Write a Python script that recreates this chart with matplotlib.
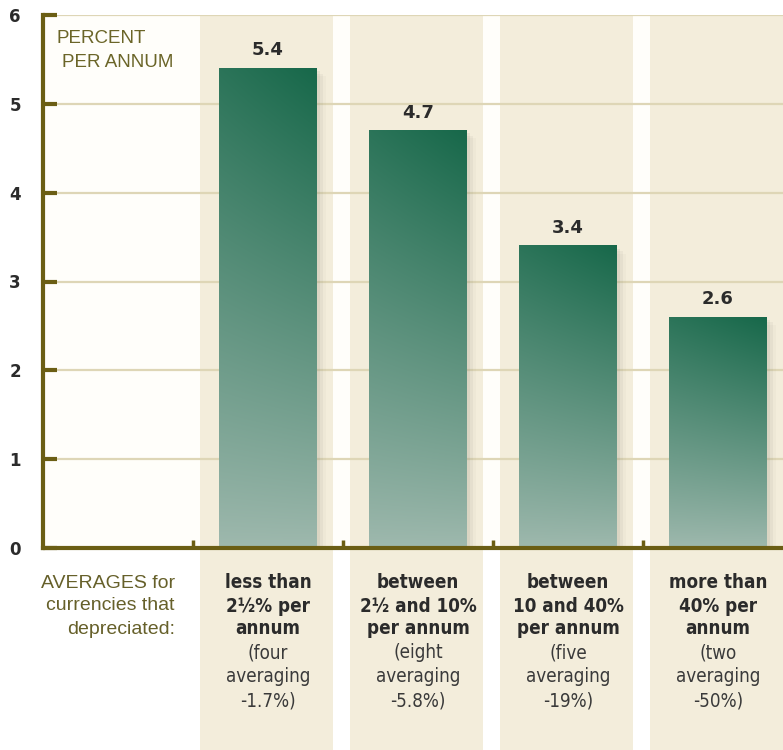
import numpy as np
import matplotlib.pyplot as plt
from matplotlib.patches import Rectangle
from matplotlib.colors import to_rgb
from matplotlib import font_manager
import matplotlib.transforms as mtransforms

plt.rcParams['font.family'] = ['Liberation Sans', 'DejaVu Sans']

# returns by depreciation bracket
values = [5.4, 4.7, 3.4, 2.6]
value_labels = ['5.4', '4.7', '3.4', '2.6']
bracket_lines = [
    ['less than', '2½% per', 'annum'],
    ['between', '2½ and 10%', 'per annum'],
    ['between', '10 and 40%', 'per annum'],
    ['more than', '40% per', 'annum'],
]
detail_lines = [
    ['(four', 'averaging', '-1.7%)'],
    ['(eight', 'averaging', '-5.8%)'],
    ['(five', 'averaging', '-19%)'],
    ['(two', 'averaging', '-50%)'],
]
yticks = [0, 1, 2, 3, 4, 5, 6]

OLIVE = '#6b5e14'
BAND = '#f3eddb'
TOP = np.array(to_rgb('#17684a'))
BOTTOM = np.array(to_rgb('#9fb9ae'))

# narrow face for the bracket labels if one is around
cond = [f for f in font_manager.fontManager.ttflist
        if 'DejaVu Sans' in f.name and f.stretch == 'condensed']
if cond:
    lab_font = dict(family='DejaVu Sans', stretch='condensed', fontsize=13.5)
else:
    lab_font = dict(family='DejaVu Sans', fontsize=12.5)

W, H = 783, 750
fig = plt.figure(figsize=(W / 100, H / 100), dpi=100)
fig.patch.set_facecolor('white')
# each slot is 150px wide, slot 0 left empty; axes run past the right edge
ax = fig.add_axes([43 / W, (H - 548) / H, 750 / W, 533 / H])
ax.set_xlim(-0.5, 4.5)
ax.set_ylim(0, 6)
ax.set_facecolor('#fffefa')

trans = mtransforms.blended_transform_factory(ax.transData, ax.transAxes)
xs = np.arange(1, len(values) + 1)

# beige column bands, running down behind the labels
for x in xs:
    ax.add_patch(Rectangle((x - 0.453, -0.4), 0.886, 1.4, transform=trans,
                           facecolor=BAND, edgecolor='none', zorder=0, clip_on=False))

for y in yticks[1:]:
    ax.axhline(y, color='#ded6b6', lw=1.6, zorder=1)

# gradient bars with a soft shadow on the right
bw = 0.65
ny, nx = 200, 60
t = np.linspace(0, 1, ny)[:, None]
s = np.linspace(0, 1, nx)[None, :]
for x, v, lab in zip(xs, values, value_labels):
    for k, a in enumerate([0.10, 0.07, 0.04]):
        off = 0.02 * (k + 1)
        ax.add_patch(Rectangle((x - bw / 2 + off, 0), bw, v - 0.03 * (k + 1),
                               facecolor='#7a7a6a', alpha=a, edgecolor='none', zorder=2))
    mix = (t ** 0.9) * (0.85 + 0.15 * s)
    img = BOTTOM[None, None, :] * (1 - mix[..., None]) + TOP[None, None, :] * mix[..., None]
    ax.imshow(img, extent=[x - bw / 2, x + bw / 2, 0, v], origin='lower',
              aspect='auto', zorder=3, interpolation='bilinear')
    ax.text(x, v + 0.1, lab, ha='center', va='bottom', fontsize=13,
            fontweight='bold', color='#2b2b2b', family=['DejaVu Sans'], zorder=4)
ax.set_xlim(-0.5, 4.5)
ax.set_ylim(0, 6)

for side in ['top', 'right']:
    ax.spines[side].set_visible(False)
for side in ['left', 'bottom']:
    ax.spines[side].set_color(OLIVE)
    ax.spines[side].set_linewidth(3)
    ax.spines[side].set_zorder(5)

ax.set_yticks(yticks)
ax.set_yticklabels([str(y) for y in yticks], fontsize=12, fontweight='bold',
                   color='#2b2b2b', family=['DejaVu Sans'])
ax.tick_params(axis='y', direction='in', length=10, width=3, color=OLIVE, pad=16)
ax.set_xticks([0.5, 1.5, 2.5, 3.5])
ax.set_xticklabels([])
ax.tick_params(axis='x', direction='in', length=6, width=2.5, color=OLIVE)

ax.text(-0.407, 5.74, 'PERCENT', ha='left', va='center', fontsize=13.5,
        color='#6b6528', zorder=4)
ax.text(-0.373, 5.47, 'PER ANNUM', ha='left', va='center', fontsize=13.5,
        color='#6b6528', zorder=4)

# labels below the axis
rows = [583, 606, 629, 653, 677, 701]
row_y = [(548 - r) / 533 for r in rows]
for i, line in enumerate(['AVERAGES for', 'currencies that', 'depreciated:']):
    ax.text(0.38, row_y[i], line, transform=trans, ha='right', va='center',
            fontsize=14, color='#66602a', clip_on=False)
for x, bl, dl in zip(xs, bracket_lines, detail_lines):
    for i, line in enumerate(bl):
        ax.text(x, row_y[i], line, transform=trans, ha='center', va='center',
                fontweight='bold', color='#2b2b2b', clip_on=False, **lab_font)
    for i, line in enumerate(dl):
        ax.text(x, row_y[i + 3], line, transform=trans, ha='center', va='center',
                color='#3a3a3a', clip_on=False, **lab_font)

fig.savefig('out.png', dpi=100)
